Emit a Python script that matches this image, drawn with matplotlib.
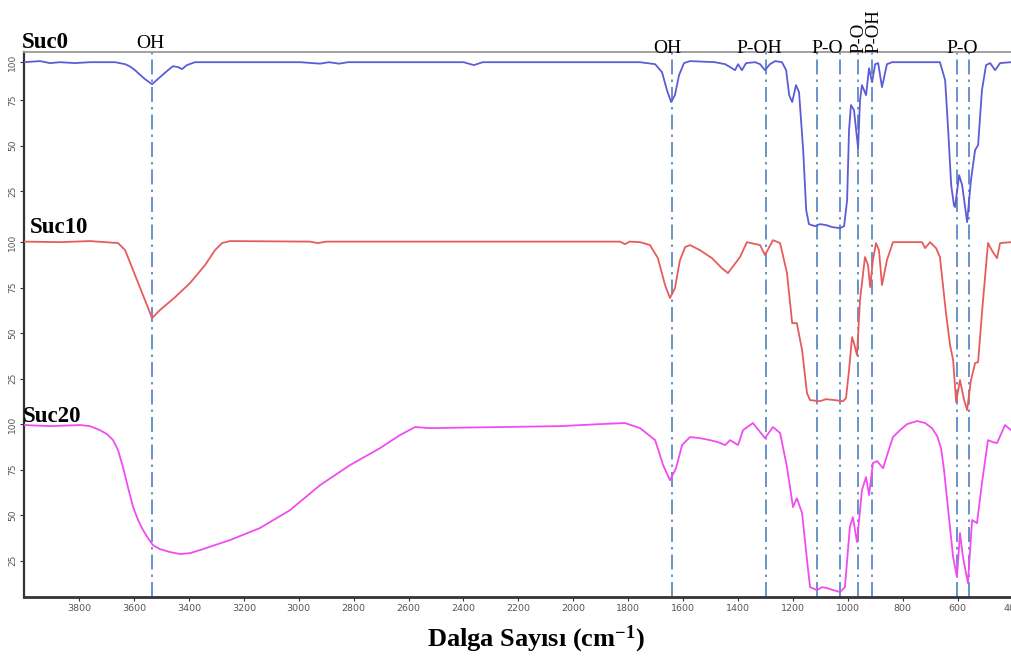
import matplotlib
matplotlib.use("Agg")
import matplotlib.pyplot as plt
import matplotlib.transforms as mtrans

# ---------------- data (wavenumber cm-1, transmittance %) ----------------
suc0_w = [4000, 3942, 3906, 3869, 3815, 3760, 3669, 3632, 3614, 3596, 3578, 3560, 3534, 3505,
          3476, 3458, 3439, 3425, 3407, 3378, 2995, 2922, 2890, 2853, 2820, 2400, 2362, 2330,
          1757, 1702, 1677, 1659, 1644, 1630, 1615, 1597, 1575, 1484, 1447, 1429, 1411, 1400,
          1386, 1371, 1338, 1320, 1302, 1284, 1265, 1240, 1225, 1214, 1203, 1189, 1178, 1163,
          1152, 1142, 1120, 1102, 1080, 1058, 1029, 1014, 1003, 996, 989, 978, 963, 956, 949,
          934, 923, 912, 901, 890, 876, 858, 839, 665, 646, 635, 624, 614, 610, 595, 584, 566,
          552, 537, 526, 512, 497, 482, 464, 446, 406]
suc0_t = [95.9, 96.5, 95.4, 95.9, 95.4, 95.9, 95.9, 94.8, 93.5, 91.5, 89.0, 86.6, 83.8, 87.7,
          91.5, 93.7, 93.2, 92.1, 94.3, 95.9, 95.9, 95.1, 95.9, 95.1, 95.9, 95.9, 94.3, 95.9,
          95.9, 94.8, 90.4, 80.5, 74.0, 77.8, 88.8, 95.4, 96.5, 95.9, 94.8, 93.2, 91.5, 94.8,
          91.5, 95.4, 95.9, 94.8, 91.5, 94.8, 96.5, 95.9, 91.5, 77.8, 74.0, 83.3, 79.4, 47.6,
          14.6, 6.9, 5.8, 6.9, 6.4, 5.3, 4.7, 5.8, 20.1, 58.6, 72.3, 69.6, 48.7, 75.0, 83.3,
          77.8, 92.6, 84.9, 94.8, 95.4, 82.2, 94.8, 95.9, 95.9, 86.0, 58.6, 28.3, 17.3, 16.3,
          33.8, 28.3, 8.0, 31.1, 47.6, 50.3, 80.5, 94.3, 95.4, 91.5, 95.4, 95.9]

suc10_w = [4000, 3869, 3760, 3658, 3632, 3596, 3560, 3534, 3505, 3450, 3396, 3341, 3305, 3279,
           3250, 2960, 2930, 2900, 1830, 1812, 1795, 1757, 1721, 1692, 1666, 1648, 1630, 1612,
           1593, 1575, 1539, 1495, 1459, 1437, 1415, 1393, 1368, 1320, 1302, 1273, 1247, 1222,
           1203, 1186, 1167, 1149, 1138, 1102, 1080, 1047, 1018, 1007, 996, 985, 978, 967,
           956, 938, 927, 919, 909, 898, 887, 876, 858, 836, 730, 719, 701, 679, 665, 643,
           628, 617, 606, 592, 577, 566, 552, 537, 526, 512, 490, 472, 457, 446, 406]
suc10_t = [100.3, 100.0, 100.6, 99.5, 95.6, 81.9, 68.2, 58.3, 62.7, 69.8, 77.5, 87.4, 95.6, 99.5,
           100.6, 100.3, 99.5, 100.3, 100.3, 98.9, 100.3, 100.0, 98.4, 91.2, 76.4, 69.3, 74.7,
           89.9, 97.3, 98.4, 95.6, 91.2, 85.7, 83.0, 87.4, 91.8, 100.0, 98.4, 92.9, 101.1, 99.5,
           83.0, 55.5, 55.5, 40.7, 17.0, 13.2, 12.6, 13.7, 13.2, 12.6, 14.3, 29.7, 47.8, 44.5,
           37.9, 68.2, 91.8, 87.4, 75.3, 90.1, 99.5, 95.6, 76.4, 90.1, 100.0, 100.0, 96.7,
           100.0, 96.7, 91.8, 61.0, 43.4, 35.2, 12.1, 24.2, 13.2, 7.7, 24.2, 33.5, 34.1, 61.0,
           99.5, 94.5, 91.2, 99.5, 100.0]

suc20_w = [4000, 3906, 3796, 3760, 3724, 3698, 3676, 3658, 3640, 3622, 3603, 3585, 3567, 3549,
           3531, 3505, 3469, 3432, 3396, 3359, 3250, 3141, 3032, 2922, 2813, 2704, 2631, 2576,
           2522, 2267, 2048, 1903, 1812, 1757, 1702, 1673, 1648, 1626, 1604, 1575, 1539, 1502,
           1473, 1447, 1429, 1400, 1382, 1346, 1302, 1273, 1247, 1222, 1200, 1186, 1167, 1149,
           1138, 1113, 1094, 1076, 1054, 1029, 1011, 993, 982, 967, 949, 934, 923, 909, 894,
           872, 854, 836, 810, 785, 748, 719, 694, 675, 661, 650, 635, 617, 603, 592, 581, 563,
           548, 530, 512, 490, 472, 457, 428, 406]
suc20_t = [99.5, 98.9, 99.5, 98.9, 96.7, 94.5, 91.2, 85.7, 76.4, 65.4, 54.4, 47.3, 41.8, 37.4,
           33.5, 31.3, 29.7, 28.6, 29.1, 30.8, 36.3, 42.9, 52.7, 66.5, 77.5, 86.8, 94.0, 98.4,
           97.8, 98.4, 98.9, 100.0, 100.6, 97.8, 91.2, 77.5, 69.2, 75.8, 88.5, 92.9, 92.3, 91.2,
           90.1, 88.5, 91.2, 88.5, 96.7, 100.6, 92.3, 98.4, 95.1, 76.4, 54.4, 59.3, 51.1, 25.3,
           10.4, 8.8, 10.4, 9.9, 8.8, 7.7, 10.4, 43.4, 48.9, 35.2, 63.7, 70.9, 61.0, 78.6, 79.7,
           75.8, 84.6, 92.9, 96.7, 100.0, 101.7, 100.6, 97.8, 93.4, 86.8, 74.7, 52.8, 26.9, 15.9,
           40.1, 26.9, 12.6, 47.3, 45.6, 67.6, 91.2, 90.1, 89.6, 99.5, 96.7]

sample_names = ["Suc0", "Suc10", "Suc20"]
band_wavenumbers = [3535, 1639, 1299, 1114, 1028, 962, 913, 604, 560]
band_labels = ["OH", "OH", "P-OH", "P-O", "P-O", "P-OH", "P-O"]
x_ticks = [3800, 3600, 3400, 3200, 3000, 2800, 2600, 2400, 2200, 2000,
           1800, 1600, 1400, 1200, 1000, 800, 600, 400]
y_tick_values = [100, 75, 50, 25]

# ---------------- layout / style ----------------
W, H = 1011, 657
offsets = [198, 95, -5]
colors = ["#5c5cd8", "#e65c5c", "#f04cf0"]
line_color = "#4f81bd"
serif = ["Liberation Serif", "DejaVu Serif"]

plt.rcParams["mathtext.fontset"] = "custom"
plt.rcParams["mathtext.rm"] = "Liberation Serif:bold"
plt.rcParams["mathtext.it"] = "Liberation Serif:bold"
plt.rcParams["mathtext.bf"] = "Liberation Serif:bold"

fig = plt.figure(figsize=(W / 100, H / 100), dpi=100)
ax = fig.add_axes([24.1 / W, (H - 597) / H, (1012.7 - 24.1) / W, 545 / H])

series = [(suc0_w, suc0_t), (suc10_w, suc10_t), (suc20_w, suc20_t)]
for (w, t), off, c in zip(series, offsets, colors):
    ax.plot(w, [v + off for v in t], color=c, lw=1.3, solid_joinstyle="round", zorder=3)

for bw in band_wavenumbers:
    ax.axvline(bw, color=line_color, lw=1.2, ls=(0, (9, 3, 1.5, 3)), zorder=2)

ax.set_xlim(4000, 400)
ax.set_ylim(0, 299.5)
ax.set_xticks(x_ticks)
ax.set_xticklabels([str(v) for v in x_ticks], fontsize=6.8, color="#555555")

yt, yl = [], []
for i, off in enumerate(offsets):
    for v in y_tick_values:
        pos = v
        if i == 0 and v == 100:
            pos = 96
        yt.append(pos + off)
        yl.append(str(v))
ax.set_yticks(yt)
ax.set_yticklabels(yl, fontsize=6.5, color="#555555", rotation=90, va="center")
ax.tick_params(axis="both", direction="out", length=3, width=0.8, color="#333333", pad=2)

ax.spines["right"].set_visible(False)
ax.spines["top"].set_color("#9a9a9a")
ax.spines["top"].set_linewidth(1.3)
ax.spines["left"].set_color("#333333")
ax.spines["left"].set_linewidth(1.6)
ax.spines["bottom"].set_color("#333333")
ax.spines["bottom"].set_linewidth(2.0)

# sample names
name_pos = [(22, 48), (30, 233), (23, 422)]
for name, (px, py) in zip(sample_names, name_pos):
    fig.text(px / W, 1 - py / H, name, fontsize=16.5, fontweight="bold",
             family=serif, va="baseline", ha="left")

# band labels
trans = mtrans.blended_transform_factory(ax.transData, fig.transFigure)
lab_specs = [
    (3541, 48, band_labels[0]),
    (1656, 53, band_labels[1]),
    (1324, 53, band_labels[2]),
    (1077, 53, band_labels[3]),
    (585, 53, band_labels[6]),
]
for wx, py, txt in lab_specs:
    ax.text(wx, 1 - py / H, txt, transform=trans, fontsize=14, family=serif,
            ha="center", va="baseline")
ax.text(959, 1 - 53 / H, band_labels[4], transform=trans, fontsize=13.5, family=serif,
        ha="center", va="bottom", rotation=90)
ax.text(906, 1 - 53 / H, band_labels[5], transform=trans, fontsize=13.5, family=serif,
        ha="center", va="bottom", rotation=90)

fig.text(536 / W, 1 - 646 / H, "Dalga Sayısı (cm$^{-1}$)", fontsize=19,
         fontweight="bold", family=serif, ha="center", va="baseline")

fig.savefig("out.png", dpi=100)
